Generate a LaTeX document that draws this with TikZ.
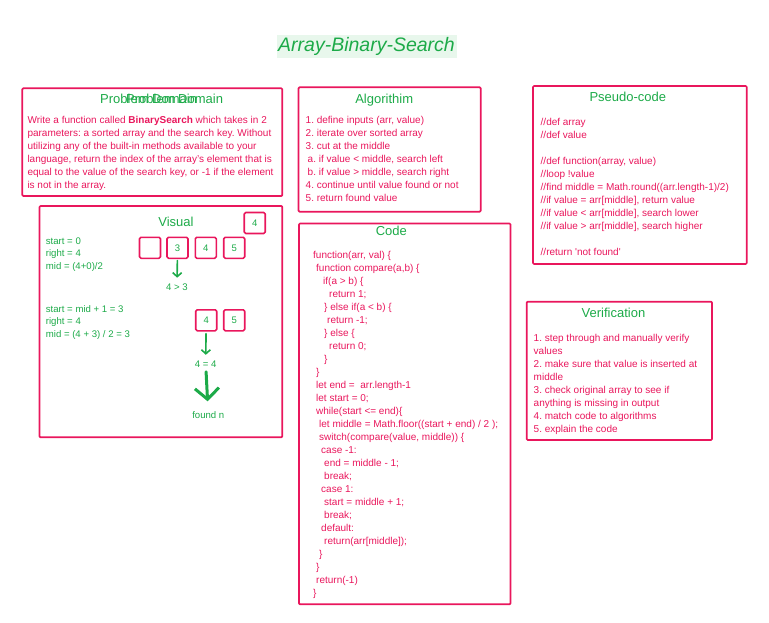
\documentclass[tikz,border=0pt]{standalone}
\usepackage{fontspec}
\setmainfont{Liberation Sans}
\usetikzlibrary{arrows.meta}
\definecolor{rosa}{RGB}{233,22,92}
\definecolor{verde}{RGB}{28,170,72}
\definecolor{mint}{RGB}{232,247,236}
\newcommand{\topline}{\rule{0pt}{9pt}}
\frenchspacing
\tikzset{
	box/.style={draw=rosa, line width=1.7pt, rounded corners=1pt},
	cell/.style={draw=rosa, line width=1.6pt, rounded corners=1.5pt, minimum width=21pt, minimum height=21pt, inner sep=0pt, text=verde, font=\fontsize{9.5}{11}\selectfont},
	head/.style={text=verde, inner sep=0pt, font=\fontsize{13}{15}\selectfont},
	body/.style={text=rosa, anchor=north west, align=left, inner sep=0pt, font=\fontsize{10}{13}\selectfont},
	note/.style={text=verde, anchor=north west, align=left, inner sep=0pt, font=\fontsize{9.6}{12.5}\selectfont},
	tag/.style={text=verde, inner sep=1pt, font=\fontsize{9.6}{11}\selectfont},
	link/.style={draw=verde, line width=1.6pt, ->}
}
\begin{document}
\begin{tikzpicture}[x=1pt, y=-1pt, line join=round, line cap=round, >={Straight Barb[length=4pt,width=9pt]}]
	\useasboundingbox (0,0) rectangle (769,623);
	\fill[mint] (277.3,35) rectangle (456.7,58.3);
	\node[text=verde, inner sep=0pt, font=\fontsize{19.5}{22}\selectfont\itshape] (T) at (366.5,46.5) {Array-Binary-Search};
	\coordinate (A1) at (22.3,88.3);
	\coordinate (A2) at (282.3,196);
	\coordinate (B1) at (298.5,87.3);
	\coordinate (B2) at (480.7,211.7);
	\coordinate (C1) at (533,86);
	\coordinate (C2) at (746.7,264);
	\coordinate (D1) at (39.5,206);
	\coordinate (D2) at (282.3,437.3);
	\coordinate (E1) at (299,223.5);
	\coordinate (E2) at (510.5,604.3);
	\coordinate (F1) at (526.7,301.7);
	\coordinate (F2) at (712,440);
	\draw[box] (A1) rectangle (A2) (B1) rectangle (B2) (C1) rectangle (C2);
	\draw[box] (D1) rectangle (D2) (E1) rectangle (E2) (F1) rectangle (F2);
	% problem domain
	\node[head, anchor=west] (PD) at (100,99) {Problem Domain};
	\node[head, anchor=west] (PE) at (126,99) {Problem Domain};
	\node[body] (PT) at (27.3,114) {\topline Write a function called \textbf{BinarySearch} which takes in 2\\
		parameters: a sorted array and the search key. Without\\
		utilizing any of the built-in methods available to your\\
		language, return the index of the array's element that is\\
		equal to the value of the search key, or -1 if the element\\
		is not in the array.};
	% algorithm
	\node[head] (AH) at (384.2,100) {Algorithim};
	\node[body] (AT) at (305.5,114.5) {\topline 1. define inputs (arr, value)\\
		2. iterate over sorted array\\
		3. cut at the middle\\
		\hspace*{2pt}a. if value < middle, search left\\
		\hspace*{2pt}b. if value > middle, search right\\
		4. continue until value found or not\\
		5. return found value};
	% pseudo-code
	\node[head] (SH) at (627.8,97.3) {Pseudo-code};
	\node[body] (ST) at (540.5,116) {\topline //def array\\
		//def value\\[13pt]
		//def function(array, value)\\
		//loop !value\\
		//find middle = Math.round((arr.length-1)/2)\\
		//if value = arr[middle], return value\\
		//if value < arr[middle], search lower\\
		//if value > arr[middle], search higher\\[13pt]
		//return \textquotesingle not found\textquotesingle};
	% visual
	\node[head] (VH) at (176,221.7) {Visual};
	\node[cell] (K) at (254.7,223) {4};
	\node[cell] (R0) at (150,247.8) {};
	\node[cell] (R3) at (177.5,247.8) {3};
	\node[cell] (R4) at (205.8,247.8) {4};
	\node[cell] (R5) at (234.2,247.8) {5};
	\node[cell] (S4) at (206.2,320.3) {4};
	\node[cell] (S5) at (234.2,320.3) {5};
	\node[note] (V1) at (45.7,235) {\topline start = 0\\ right = 4\\ mid = (4+0)/2};
	\node[note] (V2) at (45.7,302.8) {\topline start = mid + 1 = 3\\ right = 4\\ mid = (4 + 3) / 2 = 3};
	\node[tag] (G1) at (177,287.3) {4 > 3};
	\node[tag] (G2) at (205.7,364.3) {4 = 4};
	\node[tag] (G3) at (208.3,415) {found n};
	\draw[link, shorten <=1.5pt, shorten >=5pt] (R3) -- (G1);
	\draw[link, shorten <=2pt, shorten >=5pt] (S4) -- (G2);
	\draw[draw=verde, line width=3pt, -{Straight Barb[length=11pt,width=24pt]}, shorten <=3pt, shorten >=9pt] (G2) -- (G3);
	% code
	\node[head] (CH) at (391.3,231) {Code};
	\node[body] (CT) at (313,249.5) {\topline function(arr, val) \{\\
		\hspace*{3pt}function compare(a,b) \{\\
		\hspace*{10pt}if(a > b) \{\\
		\hspace*{16pt}return 1;\\
		\hspace*{11pt}\} else if(a < b) \{\\
		\hspace*{14pt}return -1;\\
		\hspace*{11pt}\} else \{\\
		\hspace*{16pt}return 0;\\
		\hspace*{11pt}\}\\
		\hspace*{3pt}\}\\
		\hspace*{3pt}let end = \ arr.length-1\\
		\hspace*{3pt}let start = 0;\\
		\hspace*{3pt}while(start <= end)\{\\
		\hspace*{6pt}let middle = Math.floor((start + end) / 2 );\\
		\hspace*{6pt}switch(compare(value, middle)) \{\\
		\hspace*{8pt}case -1:\\
		\hspace*{11pt}end = middle - 1;\\
		\hspace*{11pt}break;\\
		\hspace*{8pt}case 1:\\
		\hspace*{11pt}start = middle + 1;\\
		\hspace*{11pt}break;\\
		\hspace*{8pt}default:\\
		\hspace*{11pt}return(arr[middle]);\\
		\hspace*{6pt}\}\\
		\hspace*{3pt}\}\\
		\hspace*{3pt}return(-1)\\
		\}};
	% verification
	\node[head] (WH) at (613.5,313.3) {Verification};
	\node[body] (WT) at (533.5,332) {\topline 1. step through and manually verify\\
		values\\
		2. make sure that value is inserted at\\
		middle\\
		3. check original array to see if\\
		anything is missing in output\\
		4. match code to algorithms\\
		5. explain the code};
\end{tikzpicture}
\end{document}
